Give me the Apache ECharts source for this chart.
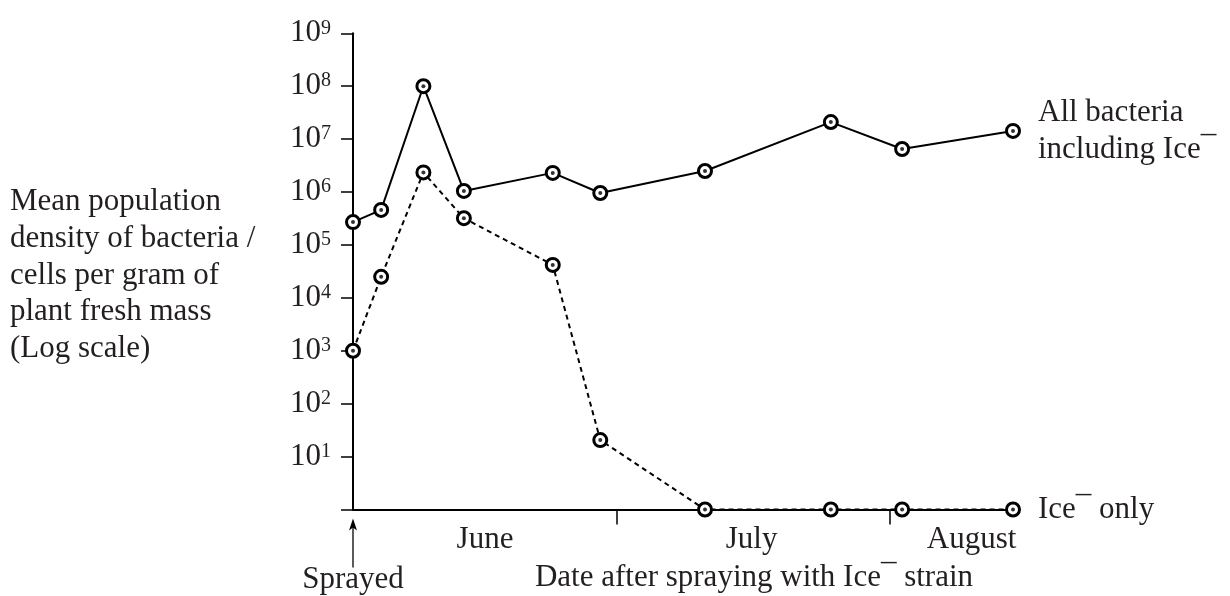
<!DOCTYPE html>
<html lang="en">
<head>
  <meta charset="UTF-8">
  <title>Ice- bacteria population</title>
  <style>
    * { margin: 0; padding: 0; }
    html, body { width: 100%; height: 100%; background: #fff; }
    #chart { width: 1230px; height: 596px; }
  </style>
</head>
<body>
  <div id="chart"></div>
  <script src="https://cdn.jsdelivr.net/npm/echarts@6/dist/echarts.min.js"></script>
  <script>
    // days after spraying (sprayed on day 0, 1 June)
    const sampleDays = [0, 3.2, 8, 12.6, 22.7, 28.1, 40, 54.3, 62.4, 75];
    // cells per gram of plant fresh mass
    const allBacteria = [2.7e5, 4.6e5, 1e8, 1.05e6, 2.3e6, 9.6e5, 2.5e6, 2.1e7, 6.5e6, 1.43e7];
    const iceOnly = [1e3, 2.5e4, 2.35e6, 3.2e5, 4.2e4, 20.5, 1, 1, 1, 1];

    const monthStartDays = [30, 61];
    const monthLabels = ['June', 'July', 'August'];
    const monthLabelDays = [15, 45.3, 70.3];

    const FONT = '"Liberation Serif", "Times New Roman", serif';
    const INK = '#231f20';
    const FS = 31;

    const chart = echarts.init(document.getElementById('chart'), null, { renderer: 'canvas' });

    const pairs = vals => sampleDays.map((d, i) => [d, vals[i]]);

    function lineSeries(name, vals, dashed, label) {
      return {
        name: name,
        type: 'line',
        data: pairs(vals),
        symbol: 'circle',
        symbolSize: 13,
        showSymbol: true,
        lineStyle: { color: '#000', width: 2, type: dashed ? [5, 4] : 'solid' },
        itemStyle: { color: '#fff', borderColor: '#000', borderWidth: 3 },
        z: 3,
        endLabel: {
          show: true,
          distance: 25,
          formatter: label,
          color: INK,
          fontFamily: FONT,
          fontSize: FS,
          lineHeight: 37
        }
      };
    }

    function dotSeries(vals) {
      return {
        type: 'scatter',
        data: pairs(vals),
        symbol: 'circle',
        symbolSize: 4,
        itemStyle: { color: '#000' },
        silent: true,
        z: 4
      };
    }

    const option = {
      animation: false,
      grid: { left: 353, right: 217, top: 33.3, bottom: 86.5 },
      xAxis: {
        type: 'value',
        min: 0,
        max: 75,
        splitLine: { show: false },
        axisLine: { lineStyle: { color: '#000', width: 2 } },
        axisTick: {
          customValues: monthStartDays,
          length: 15,
          lineStyle: { color: '#000', width: 1.5 }
        },
        axisLabel: {
          customValues: monthLabelDays,
          margin: 15,
          color: INK,
          fontFamily: FONT,
          fontSize: FS,
          formatter: v => {
            const i = monthLabelDays.indexOf(v);
            return i >= 0 ? monthLabels[i] : '';
          }
        }
      },
      yAxis: {
        type: 'log',
        logBase: 10,
        min: 1,
        max: 1e9,
        interval: 1,
        splitNumber: 9,
        splitLine: { show: false },
        axisLine: { show: true, lineStyle: { color: '#000', width: 2 } },
        axisTick: { show: true, length: 12, lineStyle: { color: '#000', width: 1.5 } },
        axisLabel: {
          margin: 22,
          formatter: v => {
            const e = Math.round(Math.log10(v));
            return e === 0 ? '' : '{b|10}{s|' + e + '}';
          },
          rich: {
            b: { fontFamily: FONT, fontSize: FS, lineHeight: 30, color: INK },
            s: { fontFamily: FONT, fontSize: 20, lineHeight: 20, color: INK, verticalAlign: 'top' }
          }
        }
      },
      series: [
        lineSeries('All bacteria', allBacteria, false, 'All bacteria\nincluding Ice\u00af'),
        lineSeries('Ice- only', iceOnly, true, 'Ice\u00af only'),
        dotSeries(allBacteria),
        dotSeries(iceOnly)
      ]
    };

    chart.setOption(option);

    // annotations: y title, axis title, sprayed arrow
    const origin = chart.convertToPixel({ xAxisIndex: 0, yAxisIndex: 0 }, [0, 1]);
    const textStyle = { fill: INK, font: FS + 'px ' + FONT };

    chart.setOption({
      graphic: [
        {
          type: 'text',
          left: 10,
          top: 184,
          style: Object.assign({
            text: 'Mean population\ndensity of bacteria /\ncells per gram of\nplant fresh mass\n(Log scale)',
            lineHeight: 36.6
          }, textStyle)
        },
        {
          type: 'text',
          x: 754,
          y: 578,
          style: Object.assign({
            text: 'Date after spraying with Ice\u00af strain',
            align: 'center',
            verticalAlign: 'middle'
          }, textStyle)
        },
        {
          type: 'text',
          x: origin[0],
          y: origin[1] + 70,
          style: Object.assign({
            text: 'Sprayed',
            align: 'center',
            verticalAlign: 'middle'
          }, textStyle)
        },
        {
          type: 'line',
          shape: { x1: origin[0], y1: origin[1] + 58, x2: origin[0], y2: origin[1] + 17 },
          style: { stroke: '#333', lineWidth: 1.6 }
        },
        {
          type: 'polygon',
          shape: {
            points: [
              [origin[0], origin[1] + 9],
              [origin[0] - 4, origin[1] + 21],
              [origin[0], origin[1] + 18],
              [origin[0] + 4, origin[1] + 21]
            ]
          },
          style: { fill: '#000' }
        }
      ]
    });

    window.addEventListener('resize', () => chart.resize());
  </script>
</body>
</html>
